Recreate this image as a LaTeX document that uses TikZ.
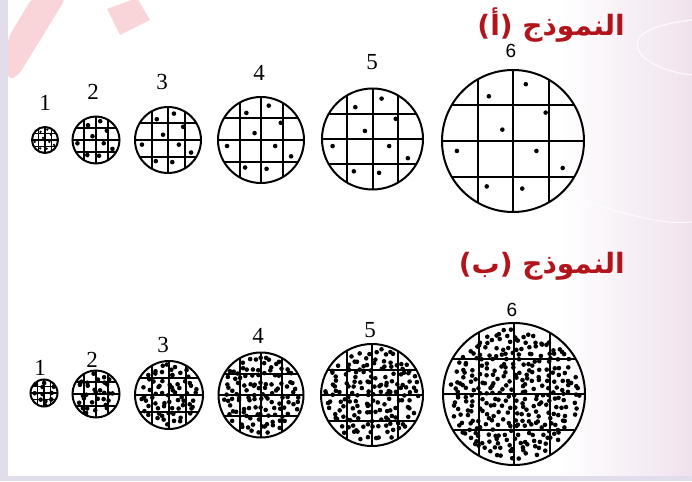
\documentclass[tikz,border=0pt]{standalone}
\usepackage{fontspec}
\setmainfont{Liberation Serif}
\newfontfamily\arabicfont[Script=Arabic]{DejaVu Sans}
\newfontfamily\sixfont{Liberation Sans}
\TeXXeTstate=1
\usetikzlibrary{positioning}
\definecolor{titlered}{HTML}{B3141C}
\definecolor{framelilac}{HTML}{E1DDEB}
\definecolor{decopink}{HTML}{F9D4D9}
\definecolor{sidepink}{HTML}{F0E2ED}
\tikzset{
  rim/.style={line width=2pt, draw=black},
  gridline/.style={draw=black},
  grain/.style={fill=black},
  numlabel/.style={font=\fontsize{23}{23}\selectfont, inner sep=0pt},
  titletext/.style={font=\arabicfont\bfseries\fontsize{28}{28}\selectfont,
    text=titlered, inner sep=0pt}
}

\begin{document}
\begin{tikzpicture}[x=1pt,y=-1pt]
  \useasboundingbox (0,0) rectangle (692,481);
  % background
  \fill[white] (0,0) rectangle (692,481);
  \shade[left color=white, right color=sidepink] (560,0) rectangle (692,476);
  \draw[white, line width=1.2pt, opacity=0.8] (692,20) .. controls (600,30) and (640,70) .. (692,75);
  \draw[white, line width=1pt, opacity=0.8] (580,200) .. controls (630,215) and (660,225) .. (692,222);
  \fill[decopink, rounded corners=6pt] (32,-2) -- (66,-2) -- (18,76) -- (8,80) -- (8,38) -- cycle;
  \fill[decopink] (107,9) -- (137,-2) -- (150,20) -- (120,35) -- cycle;
  \fill[framelilac] (0,0) rectangle (8,481);
  \fill[framelilac] (0,476) rectangle (692,481);

  % titles
  \node[titletext, anchor=east] (titleA) at (625,25) {\beginR النموذج (أ)\endR};
  \node[titletext, anchor=east] (titleB) at (625,266) {\beginR النموذج (ب)\endR};

  % model A: same number of particles, larger samples
  \foreach \i/\cx/\cy/\r/\lx/\ly in {1/45/140/13/45/103, 2/96/140/23.5/93/92,
      3/168/140/33/162/82, 4/261/140/43/259/73, 5/372.5/139/50.5/372/62,
      6/513/141/71/511/51} {
    \pgfmathsetmacro{\gw}{\r<20 ? 1.3 : 2}
    \pgfmathsetmacro{\ds}{\r<20 ? 1.3 : 2.3}
    \coordinate (a\i) at (\cx,\cy);
    \begin{scope}
      \clip (a\i) circle (\r pt);
      \foreach \k in {-0.5,0,0.5} {
        \draw[gridline, line width=\gw pt] ({\cx+\k*\r},{\cy-\r}) -- ({\cx+\k*\r},{\cy+\r});
        \draw[gridline, line width=\gw pt] ({\cx-\r},{\cy+\k*\r}) -- ({\cx+\r},{\cy+\k*\r});
      }
      \foreach \fx/\fy in {0.18/-0.80, -0.34/-0.63, 0.46/-0.40, -0.15/-0.16,
          -0.79/0.14, 0.33/0.14, 0.70/0.38, -0.37/0.64, 0.13/0.67}
        \fill[grain] ({\cx+\fx*\r},{\cy+\fy*\r}) circle (\ds pt);
    \end{scope}
    \draw[rim] (a\i) circle (\r pt);
    \node[numlabel] (la\i) at (\lx,\ly) {\ifnum\i=6 \sixfont\fontsize{19}{19}\selectfont\fi\i};
  }

  % model B: same density of particles (jittered lattice)
  \pgfmathsetseed{4213}
  \def\pitch{6.6}
  \foreach \i/\cx/\cy/\r/\lx/\ly in {1/44/393/13.5/40/368, 2/96/394/23.5/92/360,
      3/169/395/34/163/345, 4/261/395/42.5/258/336, 5/372/395/51/370/330,
      6/514/394/71/512/310} {
    \pgfmathsetmacro{\gw}{\r<20 ? 1.3 : 2}
    \pgfmathtruncatemacro{\m}{\r/\pitch}
    \coordinate (b\i) at (\cx,\cy);
    \begin{scope}
      \clip (b\i) circle (\r pt);
      \foreach \k in {-0.5,0,0.5} {
        \draw[gridline, line width=\gw pt] ({\cx+\k*\r},{\cy-\r}) -- ({\cx+\k*\r},{\cy+\r});
        \draw[gridline, line width=\gw pt] ({\cx-\r},{\cy+\k*\r}) -- ({\cx+\r},{\cy+\k*\r});
      }
      \foreach \u in {-\m,...,\m} {
        \foreach \v in {-\m,...,\m} {
          \pgfmathsetmacro{\px}{(\u+0.5*rand)*\pitch}
          \pgfmathsetmacro{\py}{(\v+0.5*rand)*\pitch}
          \pgfmathtruncatemacro{\inside}{(\px*\px+\py*\py) < (0.92*\r)^2 ? 1 : 0}
          \ifnum\inside=1
            \fill[grain] ({\cx+\px},{\cy+\py}) circle (2.3pt);
          \fi
        }
      }
    \end{scope}
    \draw[rim] (b\i) circle (\r pt);
    \node[numlabel] (lb\i) at (\lx,\ly) {\ifnum\i=6 \sixfont\fontsize{19}{19}\selectfont\fi\i};
  }
\end{tikzpicture}
\end{document}
